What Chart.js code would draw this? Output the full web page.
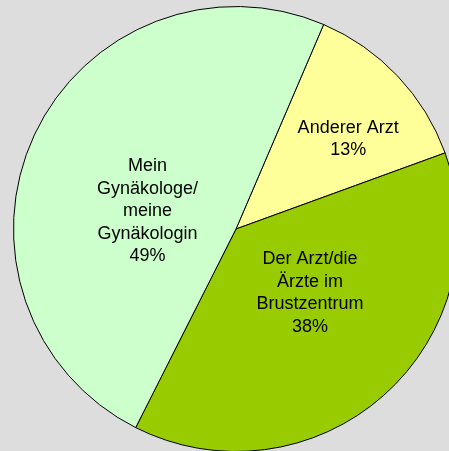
<!DOCTYPE html>
<html>
<head>
<meta charset="utf-8">
<script src="https://cdn.jsdelivr.net/npm/chart.js@4.4.0/dist/chart.umd.min.js"></script>
<style>
    html, body { margin: 0; padding: 0; background: #dddddd; overflow: hidden; }
    #grafico { position: absolute; left: 0; top: 0; }
</style>
</head>
<body>
<canvas id="grafico" width="470" height="460"></canvas>
<script>
// Dados do gráfico
const categorias = [
    ['Anderer Arzt'],
    ['Der Arzt/die', 'Ärzte im', 'Brustzentrum'],
    ['Mein', 'Gynäkologe/', 'meine', 'Gynäkologin']
];
const valores = [13, 38, 49];
const cores = ['#ffff99', '#99cc00', '#ccffcc'];

// Posição dos rótulos (relativa ao raio)
const posicaoRotulos = [
    { x: 0.504, y: -0.405 },
    { x: 0.333, y: 0.287 },
    { x: -0.398, y: -0.079 }
];

// Plugin para desenhar os rótulos dentro das fatias
const pluginRotulos = {
    id: 'rotulos',
    afterDatasetsDraw(chart) {
        const ctx = chart.ctx;
        const meta = chart.getDatasetMeta(0);
        const total = valores.reduce((a, b) => a + b, 0);
        ctx.save();
        ctx.font = '18px "Liberation Sans", Arial, sans-serif';
        ctx.fillStyle = '#000000';
        ctx.textAlign = 'center';
        ctx.textBaseline = 'middle';
        meta.data.forEach((arco, i) => {
            const linhas = [...categorias[i], Math.round(valores[i] / total * 100) + '%'];
            const alturaLinha = 22.5;
            const cx = arco.x + posicaoRotulos[i].x * arco.outerRadius;
            const cy = arco.y + posicaoRotulos[i].y * arco.outerRadius;
            const inicio = cy - (linhas.length - 1) * alturaLinha / 2;
            linhas.forEach((linha, j) => {
                ctx.fillText(linha, cx, inicio + j * alturaLinha);
            });
        });
        ctx.restore();
    }
};

const ctx = document.getElementById('grafico').getContext('2d');
new Chart(ctx, {
    type: 'pie',
    data: {
        labels: categorias.map(c => c.join(' ')),
        datasets: [{
            data: valores,
            backgroundColor: cores,
            borderColor: '#000000',
            borderWidth: 1,
            hoverOffset: 0,
            borderJoinStyle: 'miter'
        }]
    },
    options: {
        responsive: false,
        animation: false,
        rotation: 23.2,
        layout: {
            padding: { left: 13, top: 6, right: 11, bottom: 8 }
        },
        plugins: {
            legend: { display: false },
            tooltip: { enabled: false }
        }
    },
    plugins: [pluginRotulos]
});
</script>
</body>
</html>
